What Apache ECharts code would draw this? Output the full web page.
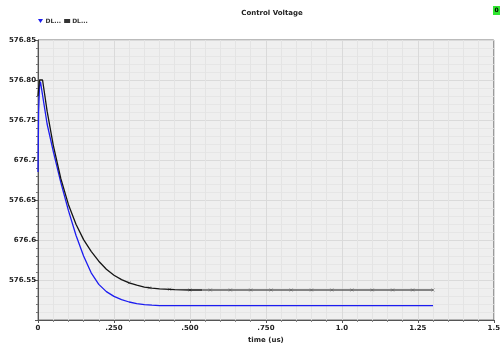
<!DOCTYPE html>
<html><head><meta charset="utf-8">
<script src="https://cdn.jsdelivr.net/npm/echarts@6/dist/echarts.min.js"></script>
<style>html,body{margin:0;padding:0;background:#fff}#c{width:503px;height:349px}</style>
</head><body><div id="c"></div>
<script>
// time in us
const tBlack = [0, 0.005, 0.015, 0.03, 0.05, 0.075, 0.1, 0.125, 0.15, 0.175, 0.2, 0.225, 0.25, 0.275, 0.3, 0.325, 0.35, 0.375, 0.4, 0.45, 0.5, 0.54, 0.6, 0.8, 1.0, 1.2, 1.3];
const vBlack = [576.780, 576.800, 576.800, 576.761, 576.719, 576.677, 576.6445, 576.6196, 576.6005, 576.5858, 576.5735, 576.5635, 576.5560, 576.5505, 576.5465, 576.5435, 576.5412, 576.5398, 576.5390, 576.5380, 576.5375, 576.5375, 576.5375, 576.5375, 576.5375, 576.5375, 576.5375];
const tBlue = [0, 0.002, 0.005, 0.008, 0.03, 0.05, 0.075, 0.1, 0.125, 0.15, 0.175, 0.2, 0.225, 0.25, 0.275, 0.3, 0.325, 0.35, 0.375, 0.4, 0.6, 0.8, 1.0, 1.2, 1.3];
const vBlue = [576.685, 576.760, 576.792, 576.798, 576.745, 576.711, 576.672, 576.637, 576.606, 576.580, 576.559, 576.5445, 576.5355, 576.5295, 576.5255, 576.5225, 576.5205, 576.5192, 576.5185, 576.5180, 576.5180, 576.5180, 576.5180, 576.5180, 576.5180];
const tMarks = [0.3, 0.367, 0.433, 0.5, 0.567, 0.633, 0.7, 0.767, 0.833, 0.9, 0.967, 1.033, 1.1, 1.167, 1.233, 1.3];
const vMarks = [576.5465, 576.5402, 576.5384, 576.5375, 576.5375, 576.5375, 576.5375, 576.5375, 576.5375, 576.5375, 576.5375, 576.5375, 576.5375, 576.5375, 576.5375, 576.5375];
const xTickLabels = ['0', '.250', '.500', '.750', '1.0', '1.25', '1.5'];
const yTickLabels = ['', '576.55', '676.6', '576.65', '676.7', '576.75', '576.80', '576.85'];

const font = 'DejaVu Sans';
const chart = echarts.init(document.getElementById('c'), null, {renderer: 'canvas'});
const pair = (a, b) => a.map((x, i) => [x, b[i]]);
const blackAll = pair(tBlack, vBlack);
const blackEarly = blackAll.filter(p => p[0] <= 0.54);
const blackLate = blackAll.filter(p => p[0] >= 0.54);
chart.setOption({
  animation: false,
  backgroundColor: '#ffffff',
  title: {text: 'Control Voltage', left: 267, top: 5, textAlign: 'center',
    textStyle: {fontFamily: font, fontSize: 7, fontWeight: 'bold', color: '#222'}},
  legend: {left: 33, top: 13, itemWidth: 6, itemHeight: 4, itemGap: 3,
    formatter: () => 'DL...',
    textStyle: {fontFamily: font, fontSize: 6, fontWeight: 'bold', color: '#333', padding: [0, 0, 0, -3]},
    data: [{name: 'DLa', icon: 'path://M0,0L10,0L5,8Z'}, {name: 'DLb', icon: 'rect'}]},
  grid: {left: 38, right: 6, top: 40, bottom: 27, show: true, backgroundColor: '#efefef', borderColor: '#777', borderWidth: 1},
  xAxis: {type: 'value', min: 0, max: 1.5, interval: 0.25,
    name: 'time (us)', nameLocation: 'middle', nameGap: 17,
    nameTextStyle: {fontFamily: font, fontSize: 7, fontWeight: 'bold', color: '#222'},
    axisLine: {lineStyle: {color: '#555'}},
    axisTick: {show: true, length: 3, lineStyle: {color: '#555'}},
    minorTick: {show: true, splitNumber: 5, length: 2, lineStyle: {color: '#888'}},
    axisLabel: {fontFamily: font, fontSize: 7, fontWeight: 'bold', color: '#222', margin: 5,
      formatter: v => xTickLabels[Math.round(v / 0.25)]},
    splitLine: {show: true, lineStyle: {color: '#dadada', width: 1}},
    minorSplitLine: {show: true, lineStyle: {color: '#e4e4e4', width: 1}}},
  yAxis: {type: 'value', min: 576.5, max: 576.85, interval: 0.05,
    axisLine: {show: true, lineStyle: {color: '#555'}},
    axisTick: {show: true, length: 3, lineStyle: {color: '#555'}},
    minorTick: {show: true, splitNumber: 5, length: 2, lineStyle: {color: '#777'}},
    axisLabel: {fontFamily: font, fontSize: 7, fontWeight: 'bold', color: '#222', margin: 2,
      formatter: v => yTickLabels[Math.round((v - 576.5) / 0.05)] || ''},
    splitLine: {show: true, lineStyle: {color: '#dadada', width: 1}},
    minorSplitLine: {show: true, lineStyle: {color: '#e6e6e6', width: 1}}},
  series: [
    {name: 'DLa', type: 'line', data: pair(tBlue, vBlue), showSymbol: false, symbol: 'none',
      color: '#1c1cf0', lineStyle: {color: '#1c1cf0', width: 1.3}},
    {name: 'DLb', type: 'line', data: blackEarly, showSymbol: false, symbol: 'none',
      color: '#333', lineStyle: {color: '#151515', width: 1.3}},
    {name: 'DLb', type: 'line', data: blackLate, showSymbol: false, symbol: 'none',
      color: '#333', lineStyle: {color: '#606060', width: 1.3}},
    {name: 'DLb', type: 'scatter', data: pair(tMarks, vMarks), symbol: 'path://M0,0L10,10M10,0L0,10', symbolSize: 3,
      itemStyle: {color: 'none', borderColor: '#666', borderWidth: 0.8}}
  ],
  graphic: [
    {type: 'rect', shape: {x: 493, y: 6, width: 7, height: 9}, style: {fill: '#2fe62f'}},
    {type: 'text', x: 496.5, y: 10.5, style: {text: '0', fontFamily: font, fontSize: 6, fontWeight: 'bold', fill: '#000', align: 'center', verticalAlign: 'middle'}}
  ]
});
</script></body></html>
